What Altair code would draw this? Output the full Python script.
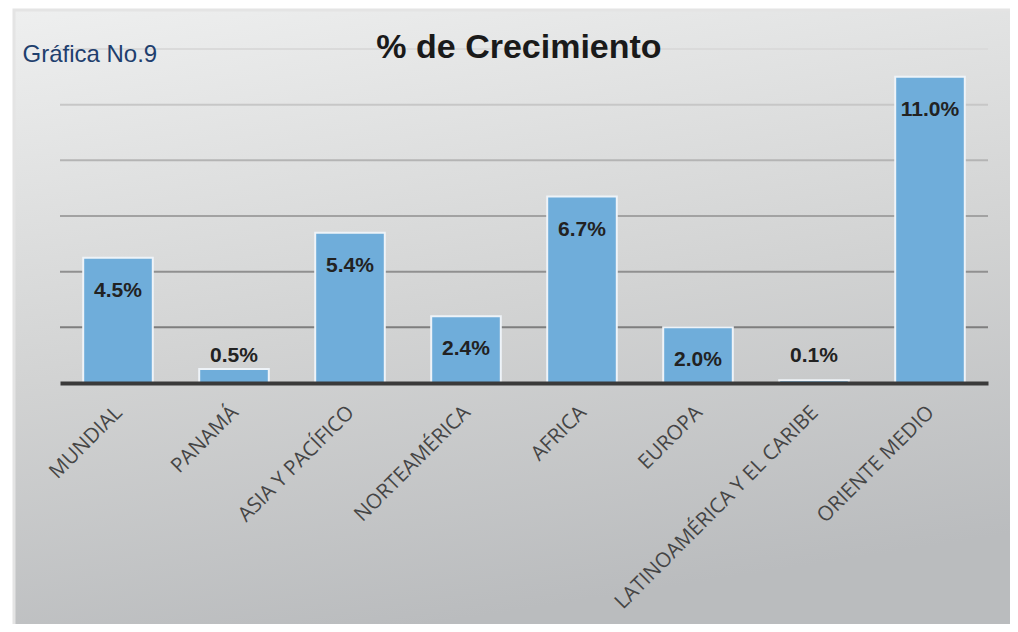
import altair as alt
import pandas as pd

regions = ["MUNDIAL", "PANAMÁ", "ASIA Y PACÍFICO", "NORTEAMÉRICA", "AFRICA",
           "EUROPA", "LATINOAMÉRICA Y EL CARIBE", "ORIENTE MEDIO"]
growth = [4.5, 0.5, 5.4, 2.4, 6.7, 2.0, 0.1, 11.0]
grid_values = [2, 4, 6, 8, 10, 12]

df = pd.DataFrame({"region": regions, "v": growth})
df["label"] = [f"{v:.1f}%" for v in growth]
grid_df = pd.DataFrame({"g": grid_values})
bg_df = pd.DataFrame({"a": [0]})

W, H = 928, 334

xenc = alt.X("region:N", sort=regions,
             scale=alt.Scale(paddingInner=0.4, paddingOuter=0.2),
             axis=alt.Axis(title=None, labelAngle=-45, labelFont="Open Sans",
                           labelFontSize=20.5, labelColor="#454545", labelPadding=19,
                           labelOffset=-6,
                           ticks=False, domainColor="#3a3a3a", domainWidth=4,
                           zindex=1, labelLimit=400))
yscale = alt.Scale(domain=[0, 12], nice=False, zero=True)

bg = alt.Chart(bg_df).mark_rect(
    fill=alt.LinearGradient(gradient="linear", x1=0, y1=0, x2=0.25, y2=1,
                            stops=[alt.GradientStop(offset=0, color="#eeefef"),
                                   alt.GradientStop(offset=0.55, color="#d2d3d3"),
                                   alt.GradientStop(offset=1, color="#babcbe")]),
    stroke="#e4e4e4", strokeWidth=3
).encode(x=alt.value(-46), x2=alt.value(980), y=alt.value(-39), y2=alt.value(600))

grid = alt.Chart(grid_df).mark_rule(strokeWidth=2).encode(
    y=alt.Y("g:Q", scale=yscale,
            axis=alt.Axis(title="Gráfica No.9", labels=False, ticks=False, domain=False,
                          grid=False, titleAngle=0, titleX=-38, titleY=12,
                          titleAlign="left", titleBaseline="alphabetic",
                          titleFont="Liberation Sans", titleFontSize=24,
                          titleFontWeight="normal", titleColor="#1f3f6e", zindex=1)),
    color=alt.Color("g:Q", scale=alt.Scale(domain=[2, 12], range=["#7e7e7e", "#dadada"]),
                    legend=None),
)

bars = alt.Chart(df).mark_bar(color="#6fadda", stroke="#eef3f8", strokeWidth=2).encode(
    x=xenc, y=alt.Y("v:Q", scale=yscale)
)

inside = alt.Chart(df).transform_filter("datum.v >= 1").mark_text(
    font="Liberation Sans", fontWeight="bold", fontSize=21, color="#222222",
    baseline="middle", dy=33
).encode(x=alt.X("region:N", sort=regions), y=alt.Y("v:Q", scale=yscale), text="label:N")

above = alt.Chart(df).transform_filter("datum.v < 1").transform_calculate(z="0").mark_text(
    font="Liberation Sans", fontWeight="bold", fontSize=21, color="#222222",
    baseline="middle", dy=-27
).encode(x=alt.X("region:N", sort=regions), y=alt.Y("z:Q", scale=yscale), text="label:N")

chart = alt.layer(bg, grid, bars, inside, above).properties(
    width=W, height=H,
    title=alt.TitleParams("% de Crecimiento", font="Liberation Sans", fontSize=34,
                          fontWeight="bold", color="#1a1a1a", anchor="middle",
                          frame="group", baseline="alphabetic", offset=0, dy=83, dx=-5),
    autosize=alt.AutoSizeParams(type="none"),
    padding={"left": 52, "top": 41, "right": 22, "bottom": 241},
).configure_view(stroke=None).configure(background="white")

chart.save("out.html", embed_options={"renderer": "svg", "actions": False})
